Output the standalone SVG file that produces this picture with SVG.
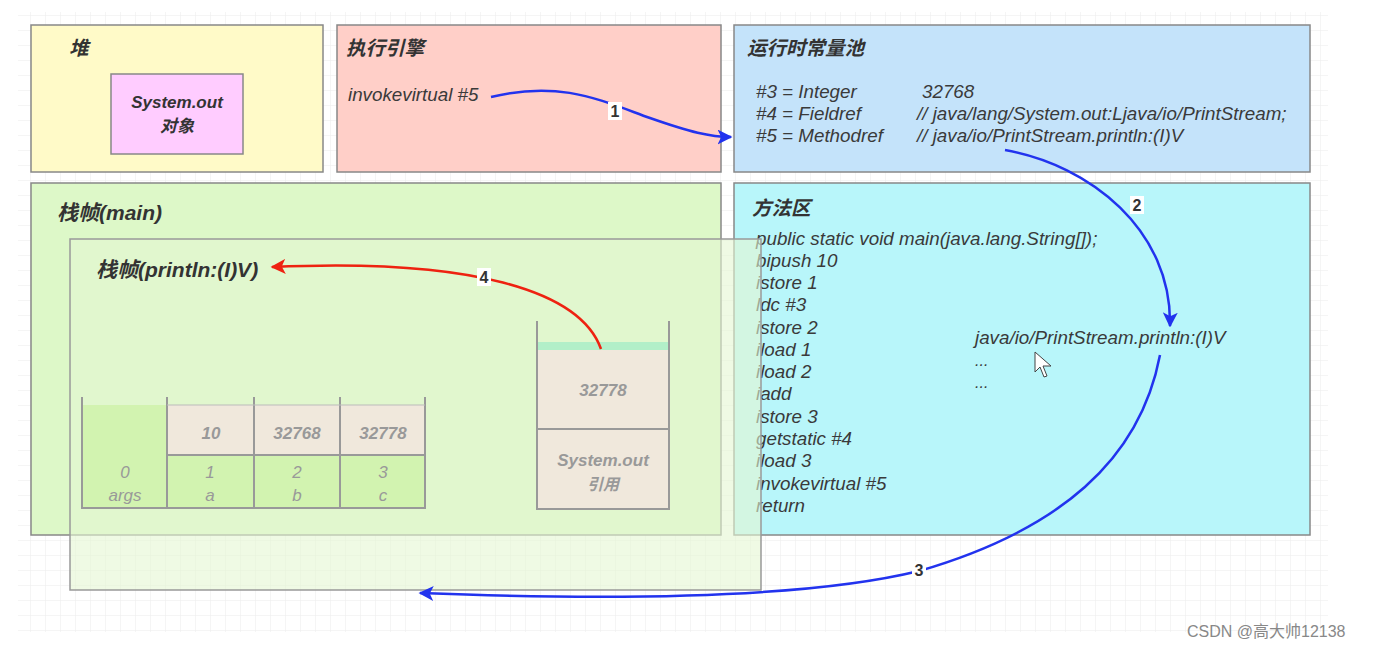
<svg xmlns="http://www.w3.org/2000/svg" width="1393" height="648" viewBox="0 0 1393 648">
<defs>
<pattern id="grid" width="15" height="15" patternUnits="userSpaceOnUse">
<path d="M15 0 L0 0 0 15" fill="none" stroke="#ececec" stroke-width="1"/>
</pattern>
<marker id="ab" viewBox="0 0 10 10" refX="9" refY="5" markerWidth="6" markerHeight="6" orient="auto" markerUnits="strokeWidth">
<path d="M0 0 L10 5 L0 10 L2.5 5 Z" fill="#2233ee"/>
</marker>
<marker id="ar" viewBox="0 0 10 10" refX="9" refY="5" markerWidth="6" markerHeight="6" orient="auto" markerUnits="strokeWidth">
<path d="M0 0 L10 5 L0 10 L2.5 5 Z" fill="#ee2211"/>
</marker>
</defs>
<style>
.box{stroke:#888;stroke-width:1.5}
.t{font-family:"Liberation Sans","Noto Sans CJK SC",sans-serif;font-style:italic}
.title{font-size:19.5px;font-weight:bold;fill:#333}
.code{font-size:18.8px;fill:#3a3a3a}
.cell{font-size:17px;fill:#999;text-anchor:middle}
.cellb{font-size:17px;fill:#999;font-weight:bold;text-anchor:middle}
.lbl{font-family:"Liberation Sans",sans-serif;font-size:16px;font-weight:bold;fill:#333;text-anchor:middle}
.lblbg{fill:#ffffff}
.wall{stroke:#999;stroke-width:2;fill:none}
</style>
<rect width="1393" height="648" fill="#ffffff"/>
<rect x="18" y="12" width="1310" height="620" fill="url(#grid)"/>

<g id="heap">
<rect class="box" x="31" y="25" width="292" height="147" fill="#fffac8"/>
<text class="t title" x="69" y="55">堆</text>
</g>
<g id="system-out-object">
<rect class="box" x="111" y="74" width="132" height="80" fill="#ffccff"/>
<text class="t title" x="177" y="108" text-anchor="middle" style="font-size:17px">System.out</text>
<text class="t title" x="177" y="132" text-anchor="middle" style="font-size:17px">对象</text>
</g>

<g id="exec-engine">
<rect class="box" x="337" y="25" width="384" height="147" fill="#ffcfc8"/>
<text class="t title" x="346" y="55">执行引擎</text>
<text class="t code" x="348" y="101">invokevirtual #5</text>
</g>

<g id="constant-pool">
<rect class="box" x="734" y="25" width="576" height="147" fill="#c4e3fa"/>
<text class="t title" x="747" y="55">运行时常量池</text>
<text class="t code" x="756" y="98">#3 = Integer</text>
<text class="t code" x="922" y="98">32768</text>
<text class="t code" x="756" y="120">#4 = Fieldref</text>
<text class="t code" x="917" y="120">// java/lang/System.out:Ljava/io/PrintStream;</text>
<text class="t code" x="756" y="142">#5 = Methodref</text>
<text class="t code" x="917" y="142">// java/io/PrintStream.println:(I)V</text>
</g>

<g id="main-frame">
<rect class="box" x="31" y="183" width="690" height="352" fill="#ddf8c8"/>
<text class="t title" x="57" y="220" style="font-size:21px">栈帧(main)</text>
</g>

<g id="method-area">
<rect class="box" x="734" y="183" width="576" height="352" fill="#b8f6fa"/>
<text class="t title" x="752" y="215">方法区</text>
<text class="t code" x="756" y="245">public static void main(java.lang.String[]);</text>
<text class="t code" x="756" y="267">bipush 10</text>
<text class="t code" x="756" y="289">istore 1</text>
<text class="t code" x="756" y="311">ldc #3</text>
<text class="t code" x="756" y="334">istore 2</text>
<text class="t code" x="756" y="356">iload 1</text>
<text class="t code" x="756" y="378">iload 2</text>
<text class="t code" x="756" y="400">iadd</text>
<text class="t code" x="756" y="423">istore 3</text>
<text class="t code" x="756" y="445">getstatic #4</text>
<text class="t code" x="756" y="467">iload 3</text>
<text class="t code" x="756" y="490">invokevirtual #5</text>
<text class="t code" x="756" y="512">return</text>
<text class="t code" x="975" y="344">java/io/PrintStream.println:(I)V</text>
<text class="t code" x="975" y="366" style="font-size:16px">...</text>
<text class="t code" x="975" y="388" style="font-size:16px">...</text>
<path d="M1035 352 L1035 372 L1040 367 L1044 377 L1047 376 L1043 366 L1051 366 Z" fill="#ffffff" stroke="#444" stroke-width="1"/>
</g>

<g id="println-frame">
<rect x="70" y="239" width="691" height="351" fill="#e4f7d2" fill-opacity="0.6" stroke="#999" stroke-width="1.5"/>
<text class="t title" x="96" y="277" style="font-size:21px">栈帧(println:(I)V)</text>
</g>

<g id="local-vars">
<rect x="82" y="405" width="85" height="103" fill="#d2f3b0"/>
<rect x="167" y="405" width="258" height="50" fill="#f0e8dc"/>
<rect x="167" y="455" width="258" height="53" fill="#d2f3b0"/>
<path class="wall" d="M82 397 V508 H425 V397 M167 397 V508 M254 397 V508 M340 397 V508 M167 455 H425"/>
<path d="M167 405 H425" stroke="#bbb" stroke-width="1"/>
<text class="t cellb" x="211" y="439">10</text>
<text class="t cellb" x="297" y="439">32768</text>
<text class="t cellb" x="383" y="439">32778</text>
<text class="t cell" x="125" y="478">0</text>
<text class="t cell" x="125" y="501">args</text>
<text class="t cell" x="210" y="478">1</text>
<text class="t cell" x="210" y="501">a</text>
<text class="t cell" x="297" y="478">2</text>
<text class="t cell" x="297" y="501">b</text>
<text class="t cell" x="383" y="478">3</text>
<text class="t cell" x="383" y="501">c</text>
</g>

<g id="operand-stack">
<rect x="537" y="342" width="132" height="8" fill="#b2efc8"/>
<rect x="537" y="350" width="132" height="159" fill="#f0e8dc"/>
<path class="wall" d="M537 321 V509 H669 V321 M537 429 H669"/>
<text class="t cellb" x="603" y="396">32778</text>
<text class="t cellb" x="603" y="466">System.out</text>
<text class="t cellb" x="603" y="490" style="font-size:16px">引用</text>
</g>

<g id="connectors">
<path d="M491 97 C560 80 600 100 650 118 C690 132 710 137 731 137" fill="none" stroke="#2233ee" stroke-width="2.5" marker-end="url(#ab)"/>
<rect class="lblbg" x="608" y="102" width="14" height="18"/>
<text class="lbl" x="615" y="117">1</text>
<path d="M1005 150 C1090 165 1172 230 1170 326" fill="none" stroke="#2233ee" stroke-width="2.5" marker-end="url(#ab)"/>
<rect class="lblbg" x="1130" y="196" width="14" height="18"/>
<text class="lbl" x="1137" y="211">2</text>
<path d="M1160 355 C1140 460 1060 530 919 571 C800 600 600 600 420 593" fill="none" stroke="#2233ee" stroke-width="2.5" marker-end="url(#ab)"/>
<rect class="lblbg" x="912" y="561" width="14" height="18"/>
<text class="lbl" x="919" y="576">3</text>
<path d="M601 349 C580 290 470 258 272 267" fill="none" stroke="#ee2211" stroke-width="2.5" marker-end="url(#ar)"/>
<rect class="lblbg" x="477" y="268" width="14" height="18"/>
<text class="lbl" x="484" y="283">4</text>
</g>

<text x="1187" y="637" font-family="'Liberation Sans','Noto Sans CJK SC',sans-serif" font-size="16" fill="#888">CSDN @高大帅12138</text>
</svg>
